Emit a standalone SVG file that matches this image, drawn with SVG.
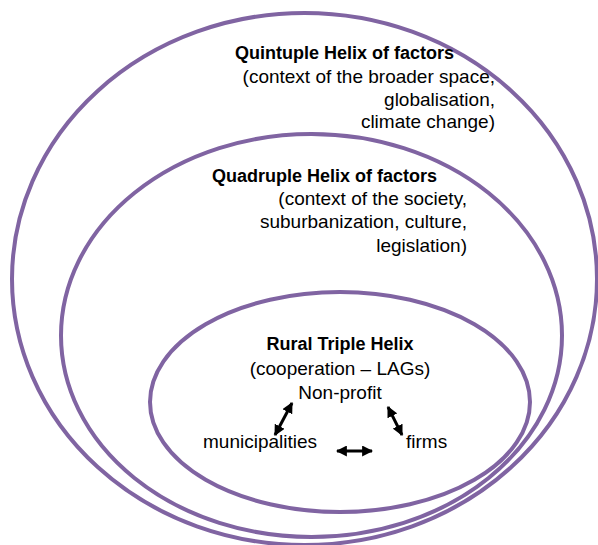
<svg xmlns="http://www.w3.org/2000/svg" width="598" height="545" viewBox="0 0 598 545">
<style>
.ring{fill:none;stroke:#8064A2;stroke-width:4}
.t{font-family:"Liberation Sans",Arial,sans-serif;font-size:19px;fill:#000}
.b{font-family:"Liberation Sans",Arial,sans-serif;font-size:18px;font-weight:bold;fill:#000}
.arr{stroke:#000;stroke-width:3;fill:none;marker-start:url(#ah);marker-end:url(#ah)}
</style>
<defs>
<marker id="ah" viewBox="0 0 10 10" refX="9" refY="5" markerWidth="11" markerHeight="11" markerUnits="userSpaceOnUse" orient="auto-start-reverse">
<path d="M0,0 L10,5 L0,10 z" fill="#000"/>
</marker>
</defs>
<rect width="598" height="545" fill="#fff"/>
<g id="quintuple">
<ellipse class="ring" cx="304.5" cy="279" rx="292.5" ry="266"/>
<text class="b" x="235" y="59">Quintuple Helix of factors</text>
<text class="t" x="495" y="83" text-anchor="end">(context of the broader space,</text>
<text class="t" x="495" y="106" text-anchor="end">globalisation,</text>
<text class="t" x="495" y="128" text-anchor="end">climate change)</text>
</g>
<g id="quadruple">
<ellipse class="ring" cx="311.5" cy="335.5" rx="250.5" ry="201.5"/>
<text class="b" x="212" y="182">Quadruple Helix of factors</text>
<text class="t" x="467" y="205" text-anchor="end">(context of the society,</text>
<text class="t" x="467" y="228" text-anchor="end">suburbanization, culture,</text>
<text class="t" x="467" y="252" text-anchor="end">legislation)</text>
</g>
<g id="triple">
<ellipse class="ring" cx="340" cy="402" rx="190" ry="110"/>
<text class="b" x="340" y="350" text-anchor="middle">Rural Triple Helix</text>
<text class="t" x="340" y="375" text-anchor="middle">(cooperation – LAGs)</text>
</g>
<g id="nonprofit"><text class="t" x="340" y="399" text-anchor="middle">Non-profit</text></g>
<g id="municipalities"><text class="t" x="203" y="448">municipalities</text></g>
<g id="firms"><text class="t" x="406" y="448">firms</text></g>
<g id="connectors">
<line class="arr" x1="292" y1="403" x2="275" y2="435"/>
<line class="arr" x1="388" y1="407" x2="402" y2="435"/>
<line class="arr" x1="337" y1="451" x2="372" y2="451"/>
</g>
</svg>
